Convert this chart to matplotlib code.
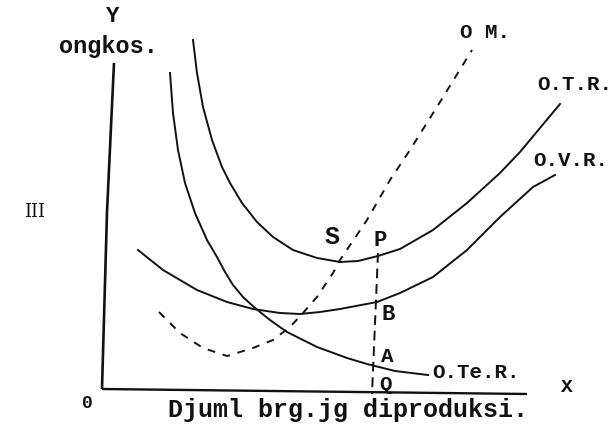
import matplotlib.pyplot as plt

# curve points (pixel-like coords, y grows downward)
otr_x = [193, 197, 203, 212, 222, 230, 242, 257, 273, 293, 317, 340, 358, 378, 400, 433, 467, 500, 520, 540, 560]
otr_y = [40, 73, 107, 140, 167, 183, 203, 222, 237, 250, 258, 262, 261, 256, 249, 230, 203, 173, 152, 128, 104]

ovr_x = [138, 163, 197, 227, 253, 280, 300, 320, 340, 377, 400, 433, 467, 500, 533, 555]
ovr_y = [250, 270, 290, 302, 309, 313, 314, 312, 309, 302, 293, 277, 250, 217, 187, 175]

oter_x = [170, 173, 178, 185, 195, 207, 217, 225, 233, 243, 255, 270, 287, 317, 347, 367, 395, 428]
oter_y = [73, 113, 150, 183, 213, 240, 257, 272, 285, 297, 308, 320, 332, 347, 358, 364, 371, 375]

om_x = [159, 180, 203, 227, 253, 273, 290, 303, 317, 333, 340, 367, 390, 410, 440, 472]
om_y = [312, 333, 348, 356, 348, 340, 327, 313, 297, 273, 260, 220, 180, 150, 102, 50]

axis_y_x = [114, 107, 102]
axis_y_y = [63, 212, 389]
axis_x_x = [102, 527]
axis_x_y = [389, 394]

pq_x = [378, 372]
pq_y = [253, 394]

fig = plt.figure(figsize=(6.11, 4.24), dpi=100, facecolor='white')
ax = fig.add_axes([0, 0, 1, 1])
ax.set_xlim(0, 611)
ax.set_ylim(424, 0)
ax.axis('off')

ink = '#111111'
lw = 1.4
ax.plot(axis_y_x, axis_y_y, color=ink, lw=1.9, solid_capstyle='butt')
ax.plot(axis_x_x, axis_x_y, color=ink, lw=1.7, solid_capstyle='butt')
for xs, ys in [(otr_x, otr_y), (ovr_x, ovr_y), (oter_x, oter_y)]:
    ax.plot(xs, ys, color=ink, lw=lw, solid_joinstyle='round')
ax.plot(om_x, om_y, color=ink, lw=lw, linestyle=(0, (4, 4)))
ax.plot(pq_x, pq_y, color=ink, lw=lw, linestyle=(0, (5, 3)))

mono = 'Liberation Mono'
tx = dict(color=ink, ha='center', va='center', family=mono, weight='bold')
ax.text(113, 17, 'Y', fontsize=16, **tx)
ax.text(108, 47, 'ongkos.', fontsize=17, **tx)
ax.text(35, 212, 'III', fontsize=13, color=ink, ha='center', va='center', family='DejaVu Serif')
ax.text(87, 403, '0', fontsize=13, **tx)
ax.text(348, 410, 'Djuml brg.jg diproduksi.', fontsize=18, **tx)
ax.text(567, 387, 'X', fontsize=14, **tx)
ax.text(485, 32, 'O M.', fontsize=15, **tx)
ax.text(575, 85, 'O.T.R.', fontsize=15, **tx)
ax.text(571, 160, 'O.V.R.', fontsize=15, **tx)
ax.text(476, 373, 'O.Te.R.', fontsize=15, **tx)
ax.text(332, 237, 'S', fontsize=18, **tx)
ax.text(380, 240, 'P', fontsize=16, **tx)
ax.text(388, 315, 'B', fontsize=16, **tx)
ax.text(387, 357, 'A', fontsize=15, **tx)
ax.text(386, 384, 'Q', fontsize=15, **tx)

fig.savefig('out.png', dpi=100, facecolor='white')
